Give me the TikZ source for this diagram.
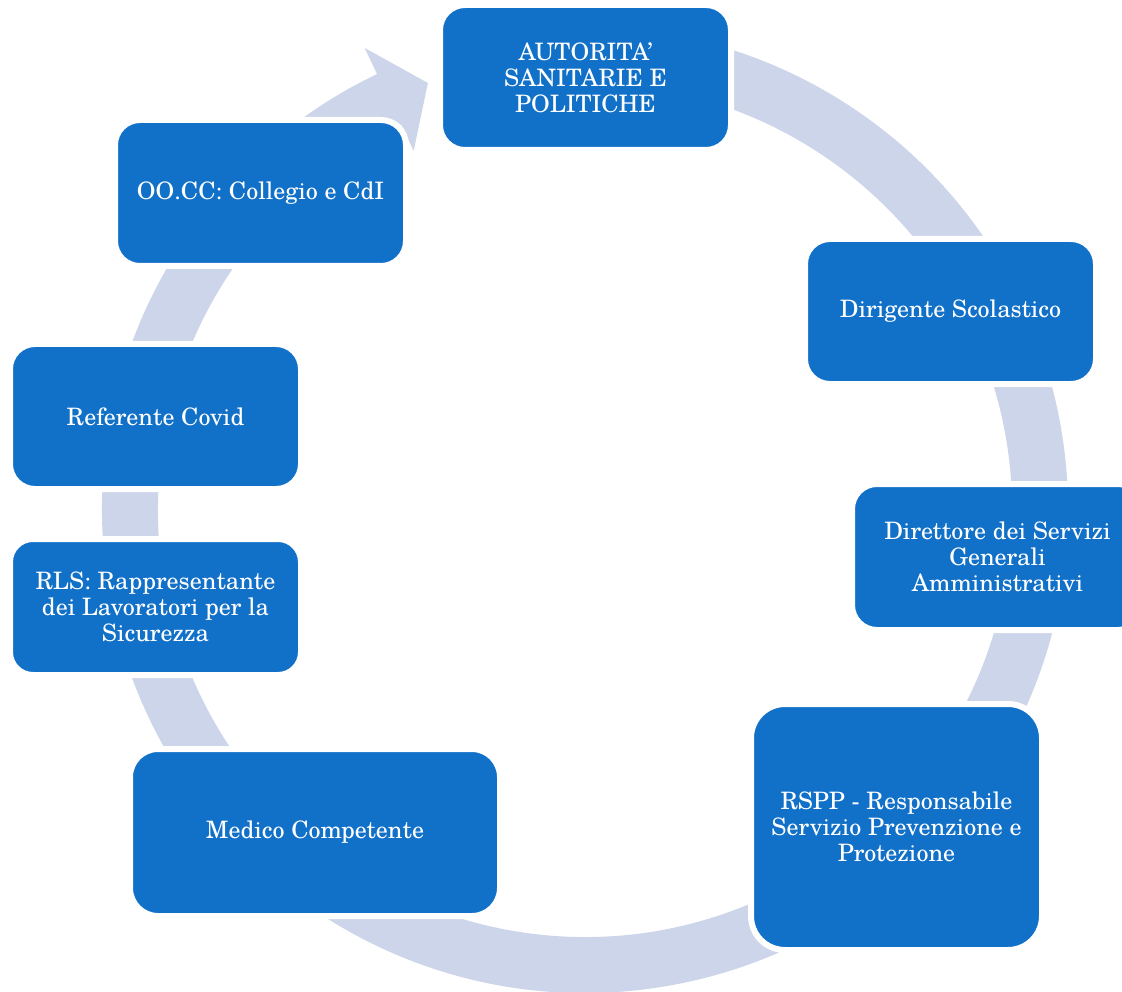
\documentclass[tikz,border=0pt]{standalone}
\usepackage{fontspec}
\setmainfont{texgyreschola}[Extension=.otf,UprightFont=*-regular,BoldFont=*-bold,ItalicFont=*-italic,BoldItalicFont=*-bolditalic]
\definecolor{boxblue}{HTML}{1170C8}
\definecolor{ringc}{HTML}{CDD5EA}
\begin{document}
\begin{tikzpicture}[x=1pt,y=-1pt,
  box/.style={rectangle, rounded corners=25pt, fill=boxblue, draw=white, line width=6pt,
    text=white, align=center, inner sep=0pt, font=\fontsize{24}{26}\selectfont},
  ring/.style={fill=ringc}]
\useasboundingbox (0,0) rectangle (1122,992);
\fill[white] (0,0) rectangle (1122,992);
% cycle ring with arrow head
\fill[ring, shift={(585,510)}]
  (100:483pt) arc[start angle=100, end angle=-244.5, radius=483pt]
  -- (-244.5:512pt) -- (-249.8:455pt) -- (-244.5:398pt) -- (-244.5:427pt)
  arc[start angle=-244.5, end angle=100, radius=427pt] -- cycle;
% boxes
\node[box, minimum width=291pt, minimum height=145pt] (aut) at (585.5,77.5) {AUTORITA'\\SANITARIE E\\POLITICHE};
\node[box, minimum width=291pt, minimum height=145pt] (dir) at (950.5,311.5) {Dirigente Scolastico};
\node[box, minimum width=291pt, minimum height=146pt] (dsga) at (997.5,557) {Direttore dei Servizi\\Generali\\Amministrativi};
\node[box, rounded corners=34pt, minimum width=291pt, minimum height=246pt] (rspp) at (896.5,827) {RSPP - Responsabile\\Servizio Prevenzione e\\Protezione};
\node[box, rounded corners=28pt, minimum width=370pt, minimum height=167pt] (med) at (315,832.5) {Medico Competente};
\node[box, rounded corners=23pt, minimum width=291pt, minimum height=136pt] (rls) at (155.5,607) {RLS: Rappresentante\\dei Lavoratori per la\\Sicurezza};
\node[box, minimum width=291pt, minimum height=145pt] (ref) at (155.5,416.5) {Referente Covid};
\node[box, minimum width=291pt, minimum height=146pt] (oo) at (260.5,193) {OO.CC: Collegio e CdI};
\end{tikzpicture}
\end{document}
